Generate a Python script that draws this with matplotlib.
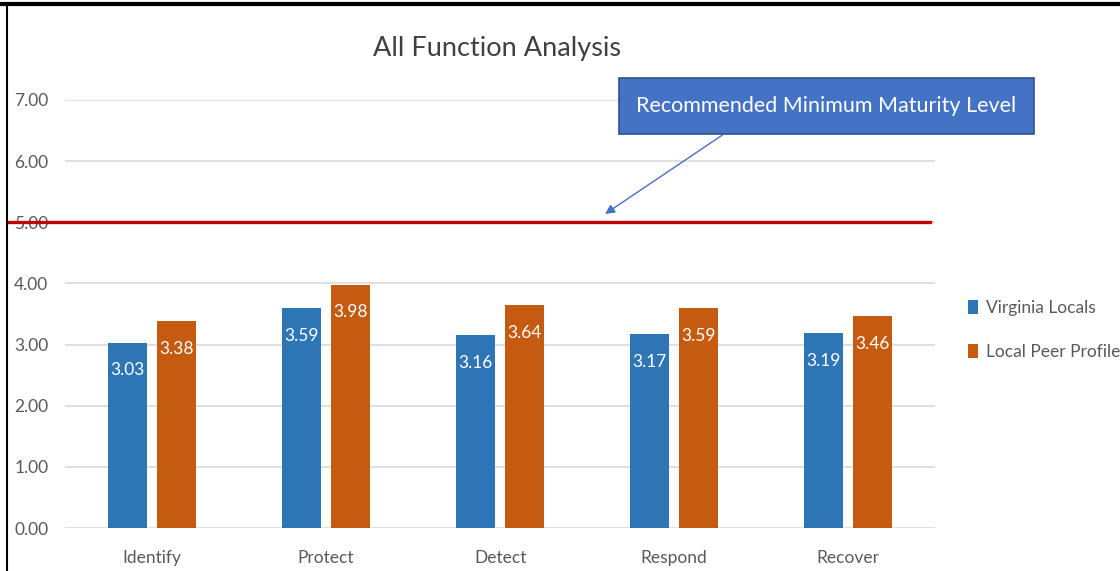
import numpy as np
import matplotlib.pyplot as plt
from matplotlib.lines import Line2D

plt.rcParams['font.family'] = ['Lato', 'DejaVu Sans']

# data
functions = ['Identify', 'Protect', 'Detect', 'Respond', 'Recover']
virginia = [3.03, 3.59, 3.16, 3.17, 3.19]
peer = [3.38, 3.98, 3.64, 3.59, 3.46]
min_level = 5.0
yticks = [0, 1, 2, 3, 4, 5, 6, 7]

blue = '#2E75B6'
orange = '#C55A11'
grey = '#595959'

fig = plt.figure(figsize=(11.2, 5.71), dpi=100)
ax = fig.add_axes([0.058, 0.0753, 0.777, 0.7497])

x = np.arange(len(functions))
w = 0.224
b1 = ax.bar(x - 0.142, virginia, w, color=blue, label='Virginia Locals', zorder=3)
b2 = ax.bar(x + 0.142, peer, w, color=orange, label='Local Peer Profile', zorder=3)

for bars in (b1, b2):
    for r in bars:
        ax.annotate('%.2f' % r.get_height(), (r.get_x() + r.get_width() / 2, r.get_height()),
                    xytext=(0, -20), textcoords='offset points', ha='center', va='center',
                    color='white', fontsize=12.5, zorder=4)

ax.set_xlim(-0.5, 4.5)
ax.set_ylim(0, 7)
ax.set_yticks(yticks)
ax.set_yticklabels(['%.2f' % t for t in yticks])
ax.set_xticks(x)
ax.set_xticklabels(functions)
ax.tick_params(length=0, colors=grey, labelsize=12.5)
ax.tick_params(axis='y', pad=12)
ax.tick_params(axis='x', pad=16)
ax.grid(axis='y', color='#D9D9D9', linewidth=1.2, zorder=0)
for s in ax.spines.values():
    s.set_visible(False)

# red minimum line, runs out to the left edge
ax.plot([-0.065, 0.994], [min_level, min_level], color='#C00000', linewidth=2.4,
        transform=ax.get_yaxis_transform(), clip_on=False, zorder=3)

# callout
ax.annotate('', xy=(2.59, min_level + 0.11), xytext=(3.29, 6.45),
            arrowprops=dict(arrowstyle='-|>', color='#4472C4', lw=1, mutation_scale=14))
fig.text(0.738, 0.8145, 'Recommended Minimum Maturity Level', ha='center', va='center',
         color='white', fontsize=15.5,
         bbox=dict(boxstyle='square,pad=0.82', facecolor='#4472C4', edgecolor='#2F528F', linewidth=1.2))

fig.text(0.444, 0.915, 'All Function Analysis', ha='center', va='center', fontsize=19.5, color='#404040')

leg = ax.legend(loc='center left', bbox_to_anchor=(1.02, 0.463), frameon=False, fontsize=12.5,
                handlelength=0.55, handleheight=0.9, handletextpad=0.5, labelspacing=1.6,
                labelcolor=grey)

# screenshot frame on top and left
fig.add_artist(Line2D([0, 1], [0.993, 0.993], color='black', linewidth=3, transform=fig.transFigure))
fig.add_artist(Line2D([0.0065, 0.0065], [0, 0.993], color='black', linewidth=1.5, transform=fig.transFigure))

fig.savefig('out.png', dpi=100)
